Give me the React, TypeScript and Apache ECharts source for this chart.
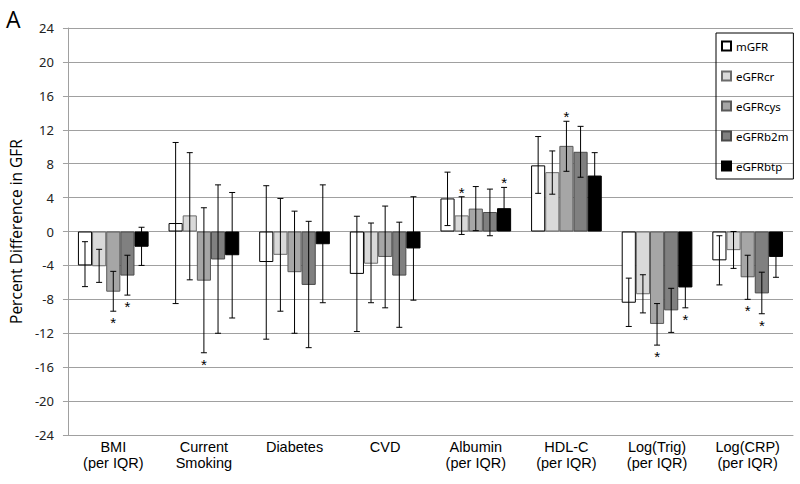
import React, { useEffect, useRef } from "react";
import * as echarts from "echarts";

const categories = [
  "BMI\n(per IQR)",
  "Current\nSmoking",
  "Diabetes",
  "CVD",
  "Albumin\n(per IQR)",
  "HDL-C\n(per IQR)",
  "Log(Trig)\n(per IQR)",
  "Log(CRP)\n(per IQR)",
];

const seriesNames = ["mGFR", "eGFRcr", "eGFRcys", "eGFRb2m", "eGFRbtp"];

const mGFR = [-4.0, 1.0, -3.6, -5.0, 3.9, 7.8, -8.4, -3.4];
const mGFRLow = [-6.5, -8.5, -12.7, -11.8, 0.7, 4.5, -11.2, -6.3];
const mGFRHigh = [-1.2, 10.5, 5.4, 1.8, 7.0, 11.2, -5.5, -0.5];

const eGFRcr = [-4.1, 1.9, -2.75, -3.8, 1.9, 7.0, -7.4, -2.2];
const eGFRcrLow = [-6.0, -5.7, -9.4, -8.4, -0.35, 4.4, -9.6, -4.35];
const eGFRcrHigh = [-2.1, 9.3, 3.9, 1.0, 4.1, 9.5, -5.1, 0.0];

const eGFRcys = [-7.1, -5.8, -4.8, -3.0, 2.7, 10.1, -10.9, -5.4];
const eGFRcysLow = [-9.4, -14.3, -12.0, -9.0, 0.1, 7.1, -13.4, -8.0];
const eGFRcysHigh = [-4.7, 2.8, 2.4, 3.0, 5.3, 13.0, -8.5, -2.8];

const eGFRb2m = [-5.2, -3.3, -6.3, -5.2, 2.3, 9.4, -9.3, -7.3];
const eGFRb2mLow = [-7.5, -12.0, -13.7, -11.3, -0.5, 6.4, -11.9, -9.7];
const eGFRb2mHigh = [-2.8, 5.5, 1.2, 1.1, 5.0, 12.4, -6.7, -4.8];

const eGFRbtp = [-1.8, -2.8, -1.5, -2.0, 2.75, 6.6, -6.6, -3.0];
const eGFRbtpLow = [-4.0, -10.2, -8.4, -8.1, 0.3, 4.0, -9.0, -5.4];
const eGFRbtpHigh = [0.5, 4.6, 5.5, 4.1, 5.2, 9.3, -4.2, -0.7];

// significance stars: 1 = above upper whisker, -1 = below lower whisker
const mGFRStars = [0, 0, 0, 0, 0, 0, 0, 0];
const eGFRcrStars = [0, 0, 0, 0, 1, 0, 0, 0];
const eGFRcysStars = [-1, -1, 0, 0, 0, 1, -1, -1];
const eGFRb2mStars = [-1, 0, 0, 0, 0, 0, 0, -1];
const eGFRbtpStars = [0, 0, 0, 0, 1, 0, -1, 0];

const yTicks = { min: -24, max: 24, interval: 4 };

const values = [mGFR, eGFRcr, eGFRcys, eGFRb2m, eGFRbtp];
const lows = [mGFRLow, eGFRcrLow, eGFRcysLow, eGFRb2mLow, eGFRbtpLow];
const highs = [mGFRHigh, eGFRcrHigh, eGFRcysHigh, eGFRb2mHigh, eGFRbtpHigh];
const stars = [mGFRStars, eGFRcrStars, eGFRcysStars, eGFRb2mStars, eGFRbtpStars];

const fills = ["#ffffff", "#d9d9d9", "#a6a6a6", "#808080", "#000000"];
const borders = ["#000000", "#6b6b6b", "#5a5a5a", "#4a4a4a", "#000000"];
const GAP = 0.22;

export default function App() {
  const ref = useRef<HTMLDivElement>(null);
  useEffect(() => {
    if (!ref.current) return;
    const chart = echarts.init(ref.current, null, { renderer: "svg" });

    const barSeries = seriesNames.map((name, si) => ({
      type: "bar",
      name,
      data: values[si],
      barGap: "0%",
      barCategoryGap: GAP * 100 + "%",
      itemStyle: { color: fills[si], borderColor: borders[si], borderWidth: 1 },
      z: 2,
    }));

    const errSeries = seriesNames.map((name, si) => ({
      type: "custom",
      id: "err_" + name,
      z: 3,
      silent: true,
      data: categories.map((_, i) => [i, lows[si][i], highs[si][i], stars[si][i]]),
      encode: { x: 0, y: [1, 2] },
      renderItem: (params: any, api: any) => {
        const idx = api.value(0);
        const lo = api.value(1);
        const hi = api.value(2);
        const st = api.value(3);
        const band = api.size([1, 0])[0];
        const bw = (band * (1 - GAP)) / 5;
        const cx = api.coord([idx, 0])[0] + (si - 2) * bw;
        const yLo = api.coord([idx, lo])[1];
        const yHi = api.coord([idx, hi])[1];
        const cap = 3;
        const ls = { stroke: "#000", lineWidth: 1 };
        const children: any[] = [
          { type: "line", shape: { x1: cx, y1: yLo, x2: cx, y2: yHi }, style: ls },
          { type: "line", shape: { x1: cx - cap, y1: yLo, x2: cx + cap, y2: yLo }, style: ls },
          { type: "line", shape: { x1: cx - cap, y1: yHi, x2: cx + cap, y2: yHi }, style: ls },
        ];
        if (st !== 0) {
          children.push({
            type: "text",
            style: {
              text: "*",
              x: cx,
              y: st > 0 ? yHi - 12 : yLo + 4,
              align: "center",
              verticalAlign: "top",
              fontSize: 15,
              fontFamily: "Liberation Sans",
              fill: "#000",
            },
          });
        }
        return { type: "group", children };
      },
    }));

    chart.setOption({
      animation: false,
      title: {
        text: "A",
        left: 6,
        top: 7,
        padding: 0,
        textStyle: { fontSize: 23, fontWeight: "normal", fontFamily: "Open Sans", color: "#000" },
      },
      legend: {
        data: seriesNames,
        orient: "vertical",
        left: 716,
        top: 33,
        padding: [6, 5, 6, 5],
        itemWidth: 9,
        itemHeight: 9,
        itemGap: 16,
        icon: "rect",
        borderColor: "#000",
        borderWidth: 1,
        textStyle: { fontSize: 11.5, fontFamily: "Noto Sans", color: "#000", lineHeight: 14 },
      },
      grid: { left: 54, right: 7, top: 28, bottom: 49, containLabel: false },
      xAxis: {
        type: "category",
        data: categories,
        axisLine: { onZero: false, lineStyle: { color: "#a0a0a0", width: 1 } },
        axisTick: { show: false },
        axisLabel: {
          interval: 0,
          margin: 4,
          fontSize: 14.5,
          lineHeight: 16,
          fontFamily: "Liberation Sans",
          color: "#000",
          verticalAlign: "top",
        },
      },
      yAxis: {
        type: "value",
        min: yTicks.min,
        max: yTicks.max,
        interval: yTicks.interval,
        name: "Percent Difference in GFR",
        nameLocation: "middle",
        nameGap: 33,
        nameTextStyle: { fontSize: 15.5, fontFamily: "Open Sans", color: "#000" },
        axisLine: { show: true, lineStyle: { color: "#a0a0a0" } },
        axisTick: { show: true, length: 5, lineStyle: { color: "#a0a0a0" } },
        axisLabel: { margin: 14, fontSize: 13, fontFamily: "Noto Sans", color: "#222" },
        splitLine: { show: true, lineStyle: { color: "#a0a0a0", width: 1 } },
      },
      series: [...barSeries, ...errSeries],
    });
    return () => chart.dispose();
  }, []);
  return (
    <div
      ref={ref}
      style={{ position: "absolute", left: 0, top: 0, width: 800, height: 484 }}
    />
  );
}
